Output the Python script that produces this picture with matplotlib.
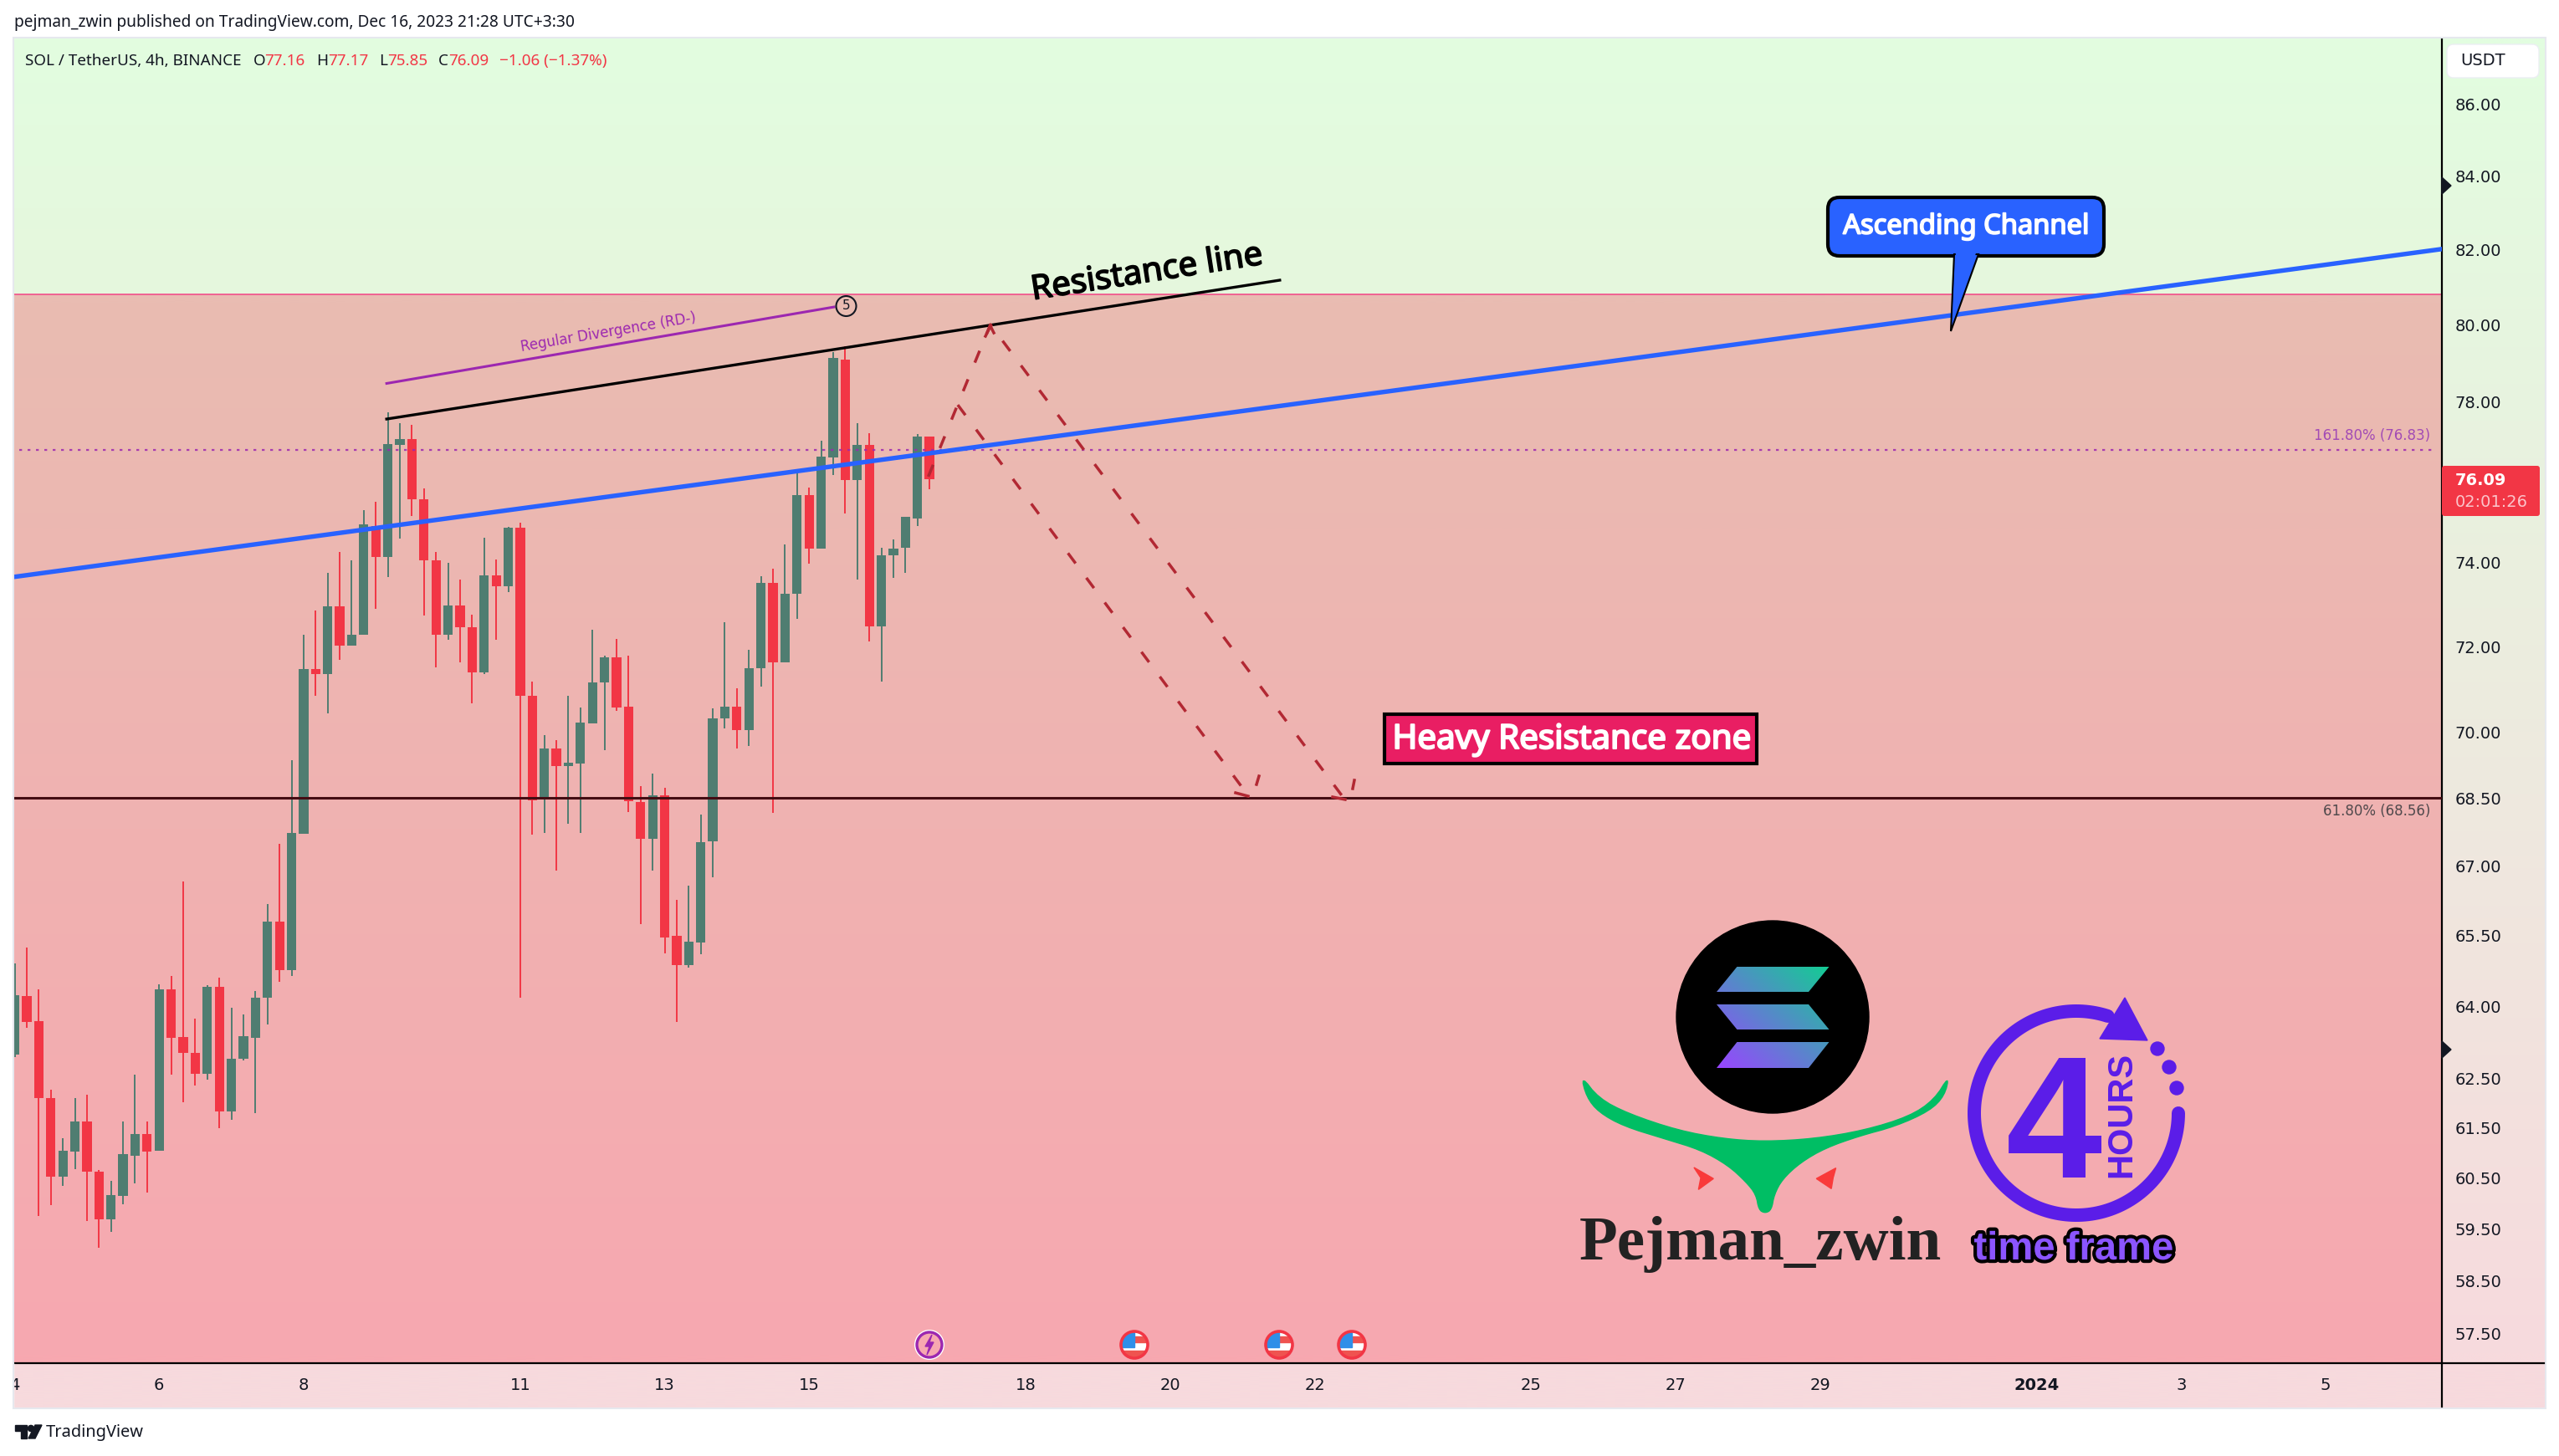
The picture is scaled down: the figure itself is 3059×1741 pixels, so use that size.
import numpy as np
from matplotlib import pyplot as plt
from matplotlib import patheffects
from matplotlib.patches import Circle, FancyBboxPatch, Polygon, Rectangle
from matplotlib.path import Path
from matplotlib.transforms import ScaledTranslation

W, H = 3059, 1741

# candles, 4h, first one is Dec 4
opens = [63.02, 64.25, 63.73, 62.13, 60.55, 61.05, 61.66, 60.65, 59.72, 60.18,
         60.98, 61.41, 61.07, 64.39, 63.39, 63.07, 62.63, 64.45, 61.87, 62.95,
         63.38, 64.21, 65.84, 64.79, 67.76, 71.51, 71.40, 72.99, 72.05, 72.31,
         74.94, 74.19, 76.96, 77.11, 75.59, 74.11, 72.32, 73.02, 72.50, 71.43,
         73.74, 73.47, 74.90, 70.88, 68.52, 69.67, 69.27, 69.33, 70.24, 71.19,
         71.78, 70.63, 68.47, 67.64, 68.61, 65.53, 64.91, 65.38, 67.58, 70.36,
         70.63, 70.09, 71.52, 73.55, 71.66, 73.29, 75.71, 74.38, 76.63, 79.14,
         76.08, 76.96, 72.52, 74.22, 74.40, 75.13, 77.16]
highs = [64.93, 65.28, 64.39, 62.30, 61.33, 62.13, 62.21, 60.69, 60.47, 61.66,
         62.62, 61.66, 64.49, 64.68, 66.71, 63.78, 64.48, 64.64, 64.00, 63.87,
         64.36, 66.21, 67.53, 69.40, 72.31, 72.90, 73.80, 74.31, 74.11, 75.32,
         75.54, 77.79, 77.51, 77.47, 75.86, 74.31, 74.03, 73.63, 72.79, 74.66,
         74.13, 74.92, 75.01, 71.22, 69.98, 69.87, 70.88, 70.61, 72.44, 71.82,
         72.22, 71.82, 68.82, 69.11, 68.79, 66.30, 66.61, 68.19, 70.60, 72.62,
         71.06, 71.96, 73.72, 73.89, 74.49, 76.27, 75.88, 77.06, 79.34, 79.49,
         77.51, 77.24, 74.41, 74.61, 75.17, 77.23, 77.17]
lows = [62.98, 63.58, 59.79, 59.99, 60.37, 60.70, 59.69, 59.16, 59.47, 60.02,
        60.42, 60.25, 61.07, 62.62, 62.05, 62.39, 62.51, 61.53, 61.69, 62.90,
        61.83, 63.65, 64.55, 64.68, 67.76, 70.88, 70.48, 71.73, 72.05, 72.31,
        72.93, 73.70, 74.64, 75.18, 72.77, 71.54, 72.20, 71.67, 70.72, 71.40,
        72.20, 73.33, 64.22, 67.74, 67.77, 66.95, 67.97, 67.77, 70.24, 69.64,
        70.53, 68.23, 65.77, 66.95, 65.15, 63.71, 64.84, 65.14, 66.79, 70.13,
        69.68, 69.73, 71.09, 68.22, 71.66, 72.70, 74.02, 74.38, 76.20, 75.25,
        73.63, 72.15, 71.21, 73.68, 73.79, 74.93, 75.85]
closes = [64.26, 63.71, 62.13, 60.55, 61.07, 61.67, 60.65, 59.72, 60.19, 61.00,
          61.41, 61.05, 64.39, 63.38, 63.07, 62.63, 64.45, 61.87, 62.95, 63.41,
          64.21, 65.84, 64.79, 67.77, 71.51, 71.40, 72.99, 72.05, 72.31, 74.97,
          74.19, 76.98, 77.11, 75.59, 74.11, 72.32, 73.02, 72.49, 71.43, 73.74,
          73.48, 74.89, 70.88, 68.50, 69.67, 69.27, 69.35, 70.27, 71.20, 71.78,
          70.62, 68.48, 67.64, 68.61, 65.49, 64.90, 65.41, 67.57, 70.37, 70.63,
          70.09, 71.53, 73.55, 71.66, 73.30, 75.71, 74.38, 76.65, 79.17, 76.08,
          76.96, 72.52, 74.23, 74.39, 75.17, 77.17, 76.09]

price_ticks = [86, 84, 82, 80, 78, 74, 72, 70, 68.5, 67, 65.5, 64, 62.5, 61.5,
               60.5, 59.5, 58.5, 57.5]
date_ticks = [0, 12, 24, 42, 54, 66, 84, 96, 108, 126, 138, 150, 168, 180, 192]
date_labels = ['4', '6', '8', '11', '13', '15', '18', '20', '22', '25', '27',
               '29', '2024', '3', '5']

# drawings, x in candles and y in price
channel_x, channel_y = [-0.05, 201.6], [73.70, 82.05]
resistance_x, resistance_y = [30.9, 105.1], [77.61, 81.22]
divergence_x, divergence_y = [30.9, 68.06], [78.52, 80.51]
path_a_x, path_a_y = [75.9, 81.06, 110.5], [76.16, 80.05, 68.52]
path_b_x, path_b_y = [78.35, 102.5], [77.97, 68.60]
zone_top = 80.84
fib_161 = 76.83
fib_61 = 68.56

fig = plt.figure(figsize=(W / 100, H / 100), dpi=100, facecolor='white')


def hex_rgb(c):
    return np.array([int(c[i:i + 2], 16) / 255 for i in (1, 3, 5)])


def vgrad(axis, x0, x1, y0, y1, top, bottom):
    colours = np.linspace(hex_rgb(top), hex_rgb(bottom), 64)[:, None, :]
    axis.imshow(colours, extent=(x0, x1, y1, y0), aspect='auto',
                interpolation='bilinear', zorder=1)


def heavier(width, colour):
    # Noto Sans here only has one weight
    return [patheffects.withStroke(linewidth=width, foreground=colour)]


def smooth(points, rounds=2):
    pts = np.array(points, dtype=float)
    for _ in range(rounds):
        nxt = np.roll(pts, -1, axis=0)
        pts = np.column_stack([0.75 * pts + 0.25 * nxt,
                               0.25 * pts + 0.75 * nxt]).reshape(-1, 2)
    return pts


# pixel layers under and over the chart
bg = fig.add_axes([0, 0, 1, 1], zorder=0)
vgrad(bg, 17, 2919, 46, 352, '#e2fde0', '#e6f7dd')
vgrad(bg, 17, 2919, 352, 1630, '#e9bcb2', '#f7a8b0')
vgrad(bg, 2919, 3042, 46, 1630, '#e2fde0', '#f7dadd')
vgrad(bg, 17, 3042, 1630, 1683, '#f7dadd', '#f7dadd')
bg.set_xlim(0, W)
bg.set_ylim(H, 0)
bg.axis('off')

ax = fig.add_axes([17 / W, 1 - 1630 / H, (2919 - 17) / W, (1630 - 46) / H],
                  zorder=1)
ax.patch.set_alpha(0)
ax.set_yscale('log')

x = np.arange(len(opens))
o = np.array(opens)
c = np.array(closes)
candle_colours = ['#4f7d71' if b >= a else '#f23645' for a, b in zip(o, c)]
ax.vlines(x, lows, highs, colors=candle_colours, linewidth=1.4, zorder=2)
ax.bar(x, np.abs(c - o), bottom=np.minimum(o, c), width=0.78,
       color=candle_colours, zorder=3)

ax.axhline(zone_top, color='#f06292', linewidth=1.4, zorder=1)
ax.axhline(fib_61, color='#440d13', linewidth=2.2, zorder=4)
ax.plot([0.4, 201], [fib_161, fib_161], color='#9c27b0', alpha=0.85,
        linewidth=1.6, linestyle=(0, (1.5, 3)), zorder=4)
ax.plot(channel_x, channel_y, color='#2962ff', linewidth=3.9, zorder=5)
ax.plot(resistance_x, resistance_y, color='black', linewidth=2.4, zorder=5)
ax.plot(divergence_x, divergence_y, color='#9c27b0', linewidth=2.2, zorder=5)
for px_, py_ in ((path_a_x, path_a_y), (path_b_x, path_b_y)):
    ax.plot(px_, py_, color='#b22833', linewidth=2.5,
            linestyle=(0, (4.4, 6.2)), zorder=6)

ax.set_xlim(-0.04, 201.65)
ax.set_ylim(56.97, 87.91)
ax.set_yticks(price_ticks)
ax.set_yticklabels(['%.2f' % p for p in price_ticks])
ax.minorticks_off()
ax.yaxis.tick_right()
ax.tick_params(axis='y', length=0, pad=11, labelsize=14, labelcolor='#131722')
lift = ScaledTranslation(0, 0.02, fig.dpi_scale_trans)
for tick in ax.yaxis.get_major_ticks():
    tick.label2.set_transform(tick.label2.get_transform() + lift)
ax.set_xticks(date_ticks)
ax.set_xticklabels(date_labels)
ax.tick_params(axis='x', length=0, pad=12, labelsize=14, labelcolor='#131722')
ax.get_xticklabels()[date_labels.index('2024')].set_fontweight('bold')
for side in ('top', 'left'):
    ax.spines[side].set_visible(False)
ax.spines['right'].set_linewidth(1.6)
ax.spines['bottom'].set_linewidth(1.6)

ov = fig.add_axes([0, 0, 1, 1], zorder=2)
ov.patch.set_alpha(0)

# frame round the pane
ov.add_patch(Rectangle((0, 1630), 16, 53, color='white', zorder=1))
ov.add_patch(Rectangle((16, 45), 3027, 1639, fill=False, edgecolor='#e6e8ee',
                       linewidth=1.5, zorder=1))
ov.plot([2919, 3041], [1630, 1630], color='black', linewidth=1.6, zorder=1)
ov.plot([2919, 2919], [1630, 1682], color='black', linewidth=1.6, zorder=1)

# header
TEXT = 'Noto Sans'
ov.text(17, 27, 'pejman_zwin published on TradingView.com, Dec 16, 2023 21:28 UTC+3:30',
        fontsize=13.8, family=TEXT, color='#131722', va='center')
ov.text(30, 73, 'SOL / TetherUS, 4h, BINANCE', fontsize=13.6, family=TEXT,
        color='#131722', va='center')
for px_, label, colour in ((303, 'O', '#131722'), (316, '77.16', '#f23645'),
                           (378, 'H', '#131722'), (392, '77.17', '#f23645'),
                           (453, 'L', '#131722'), (463, '75.85', '#f23645'),
                           (524, 'C', '#131722'), (536, '76.09', '#f23645'),
                           (597, '\u22121.06 (\u22121.37%)', '#f23645')):
    ov.text(px_, 73, label, fontsize=13.6, family=TEXT, color=colour, va='center')

# price axis extras
ov.add_patch(FancyBboxPatch((2928, 56), 104, 34,
                            boxstyle='round,pad=3,rounding_size=8',
                            facecolor='white', edgecolor='#eceef3', zorder=2))
ov.text(2941, 73, 'USDT', fontsize=14, color='#131722', va='center', zorder=3)
ov.add_patch(FancyBboxPatch((2919, 557), 117, 60,
                            boxstyle='round,pad=0,rounding_size=3',
                            facecolor='#f23645', edgecolor='none', zorder=2))
ov.text(2935, 574, '76.09', fontsize=14, color='white', fontweight='bold',
        va='center', zorder=3)
ov.text(2935, 601, '02:01:26', fontsize=14, color='#fbc4ca', va='center', zorder=3)
ov.add_patch(Polygon([(2919, 212), (2930, 222), (2919, 232)], color='#131722'))
ov.add_patch(Polygon([(2919, 1245), (2930, 1255), (2919, 1265)], color='#131722'))
ov.text(2905, 521, '161.80% (76.83)', fontsize=12, color='#a24bb5', ha='right',
        va='center')
ov.text(2905, 970, '61.80% (68.56)', fontsize=12, color='#50494c', ha='right',
        va='center')

# chart notes
ov.text(1371, 327, 'Resistance line', fontsize=29, family=TEXT, color='black',
        rotation=8.8, ha='center', va='center', rotation_mode='anchor',
        path_effects=heavier(1.2, 'black'))
ov.text(727, 397, 'Regular Divergence (RD-)', fontsize=12, color='#9c27b0',
        rotation=9.6, ha='center', va='center', rotation_mode='anchor')
ov.add_patch(Circle((1011.5, 366), 12, fill=False, edgecolor='#131722',
                    linewidth=1.5))
ov.text(1011.5, 366, '5', fontsize=11, color='#131722', ha='center', va='center')

ov.add_patch(Rectangle((1655, 854), 445, 59, facecolor='#e91e63',
                       edgecolor='black', linewidth=3))
ov.text(1879, 885, 'Heavy Resistance zone', fontsize=29, family=TEXT, color='white',
        ha='center', va='center', path_effects=heavier(1.5, 'white'))

ov.add_patch(FancyBboxPatch((2198, 249), 304, 44,
                            boxstyle='round,pad=13,rounding_size=14',
                            facecolor='#2962ff', edgecolor='black', linewidth=3,
                            zorder=3))
ov.add_patch(Polygon([(2336, 304), (2332, 396), (2365, 304)],
                     facecolor='#2962ff', edgecolor='black', linewidth=1.5,
                     zorder=3))
ov.add_patch(Polygon([(2338, 300), (2334, 380), (2363, 300)],
                     facecolor='#2962ff', edgecolor='none', zorder=3))
ov.text(2350, 271, 'Ascending Channel', fontsize=23.5, family=TEXT, color='white',
        ha='center', va='center', zorder=4, path_effects=heavier(1.3, 'white'))

# dashed arrow heads
for xs, ys in (([1477, 1492], [948, 952]), ([1502, 1505], [938, 928]),
               ([1593, 1608], [953, 956]), ([1617, 1619], [943, 933]),
               ([1178, 1184], [402, 390]), ([1184, 1188], [390, 398])):
    ov.plot(xs, ys, color='#b22833', linewidth=2.5, zorder=4)


# event icons
def flag_icon(cx, cy):
    disc = Circle((cx, cy), 16, facecolor='white', edgecolor='none', zorder=3)
    ov.add_patch(disc)
    for rect in (Rectangle((cx, cy - 10), 17, 7, color='#ef5350', zorder=4),
                 Rectangle((cx - 17, cy + 7), 34, 10, color='#ef5350', zorder=4),
                 Rectangle((cx - 17, cy - 17), 17, 20, color='#2f8fe8', zorder=5)):
        ov.add_patch(rect)
        rect.set_clip_path(disc)
    ov.add_patch(Circle((cx, cy), 16, fill=False, edgecolor='#f23645',
                        linewidth=2.6, zorder=6))


for cx in (1356, 1529, 1616):
    flag_icon(cx, 1608)
ov.add_patch(Circle((1111, 1608), 18, facecolor='white', edgecolor='none', zorder=3))
ov.add_patch(Circle((1111, 1608), 15, facecolor='#f7a8b0', edgecolor='#9c27b0',
                    linewidth=2.4, zorder=4))
ov.add_patch(Polygon([(1114, 1596), (1106, 1610), (1111, 1610), (1108, 1620),
                      (1116, 1605), (1111, 1605)], color='#9c27b0', zorder=5))

# Solana logo
ov.add_patch(Circle((2119, 1216), 115, color='black', zorder=2))
bars = [[(2076.4, 1156), (2186.5, 1156), (2162, 1186), (2052, 1186)],
        [(2052, 1201), (2162, 1201), (2186.5, 1231), (2076.4, 1231)],
        [(2076.4, 1246), (2186.5, 1246), (2162, 1277), (2052, 1277)]]
verts, codes = [], []
for bar in bars:
    verts += bar + [bar[0]]
    codes += [Path.MOVETO, Path.LINETO, Path.LINETO, Path.LINETO, Path.CLOSEPOLY]
u, v = np.meshgrid(np.linspace(0, 1, 48), np.linspace(1, 0, 48))
t = ((u + v) / 2)[:, :, None]
shade = ov.imshow(hex_rgb('#9945ff') * (1 - t) + hex_rgb('#14cc94') * t,
                  extent=(2052, 2187, 1277, 1156), aspect='auto',
                  interpolation='bilinear', zorder=3)
shade.set_clip_path(Path(verts, codes), ov.transData)


# the rest of the logo was measured on a crop of 1.845 x 3 around it
def crop(points):
    return [(1800 + a / 1.845, 1080 + b / 3) for a, b in points]


horns = [(166, 618), (205, 700), (270, 755), (380, 815), (480, 845), (570, 855),
         (680, 845), (790, 815), (890, 765), (945, 705), (978, 618), (968, 690),
         (935, 745), (860, 800), (780, 835), (705, 878), (650, 930), (610, 990),
         (592, 1045), (586, 1100), (572, 1112), (558, 1100), (552, 1045),
         (530, 1000), (490, 940), (430, 885), (350, 845), (260, 800), (205, 750),
         (178, 695)]
ov.add_patch(Polygon(smooth(crop(horns)), facecolor='#00be64', edgecolor='#00be64',
                     linewidth=1, zorder=2))
ov.add_patch(Polygon(crop([(415, 948), (458, 988), (425, 1027), (430, 985)]),
                     color='#f93a3a', zorder=2))
ov.add_patch(Polygon(crop([(728, 950), (685, 988), (718, 1024), (722, 985)]),
                     color='#f93a3a', zorder=2))
ov.text(2104, 1506, 'Pejman_zwin', fontsize=54, family='Liberation Serif',
        fontweight='bold', color='#222222', ha='center', va='baseline', zorder=3)

# 4 hours badge
RING = '#5b1de8'
angles = np.radians(np.linspace(0, 288, 160))
ov.plot(2482 + 122 * np.cos(angles), 1331 + 122 * np.sin(angles), color=RING,
        linewidth=11.5, solid_capstyle='round', zorder=2)
ov.add_patch(Polygon([(2540, 1193), (2567, 1244), (2510, 1242)], color=RING, zorder=3))
for cx, cy in ((2579, 1254), (2593, 1276), (2602, 1301)):
    ov.add_patch(Circle((cx, cy), 8, color=RING, zorder=3))
ov.text(2455, 1408, '4', fontsize=149, family='Liberation Sans', fontweight='bold',
        color=RING, ha='center', va='baseline', zorder=3)
ov.text(2536, 1333, 'HOURS', fontsize=30, family='Liberation Sans',
        fontweight='bold', color=RING, rotation=90, ha='center', va='center',
        zorder=3)
ov.text(2479, 1494, 'time frame', fontsize=34, family='Liberation Sans',
        fontweight='bold', color='#8b55ff', ha='center', va='center', zorder=3,
        path_effects=[patheffects.withStroke(linewidth=6, foreground='black')])

# TradingView mark
ov.add_patch(Polygon([(18, 1704), (32, 1704), (32, 1720), (25, 1720), (25, 1711),
                      (18, 1711)], color='#131722'))
ov.add_patch(Circle((37, 1708), 3.6, color='#131722'))
ov.add_patch(Polygon([(42, 1704), (50, 1704), (42, 1720), (34, 1720)], color='#131722'))
ov.text(55, 1713, 'TradingView', fontsize=14.4, family=TEXT, color='#131722',
        va='center')

ov.set_xlim(0, W)
ov.set_ylim(H, 0)
ov.axis('off')

fig.savefig('out.png', dpi=100)
